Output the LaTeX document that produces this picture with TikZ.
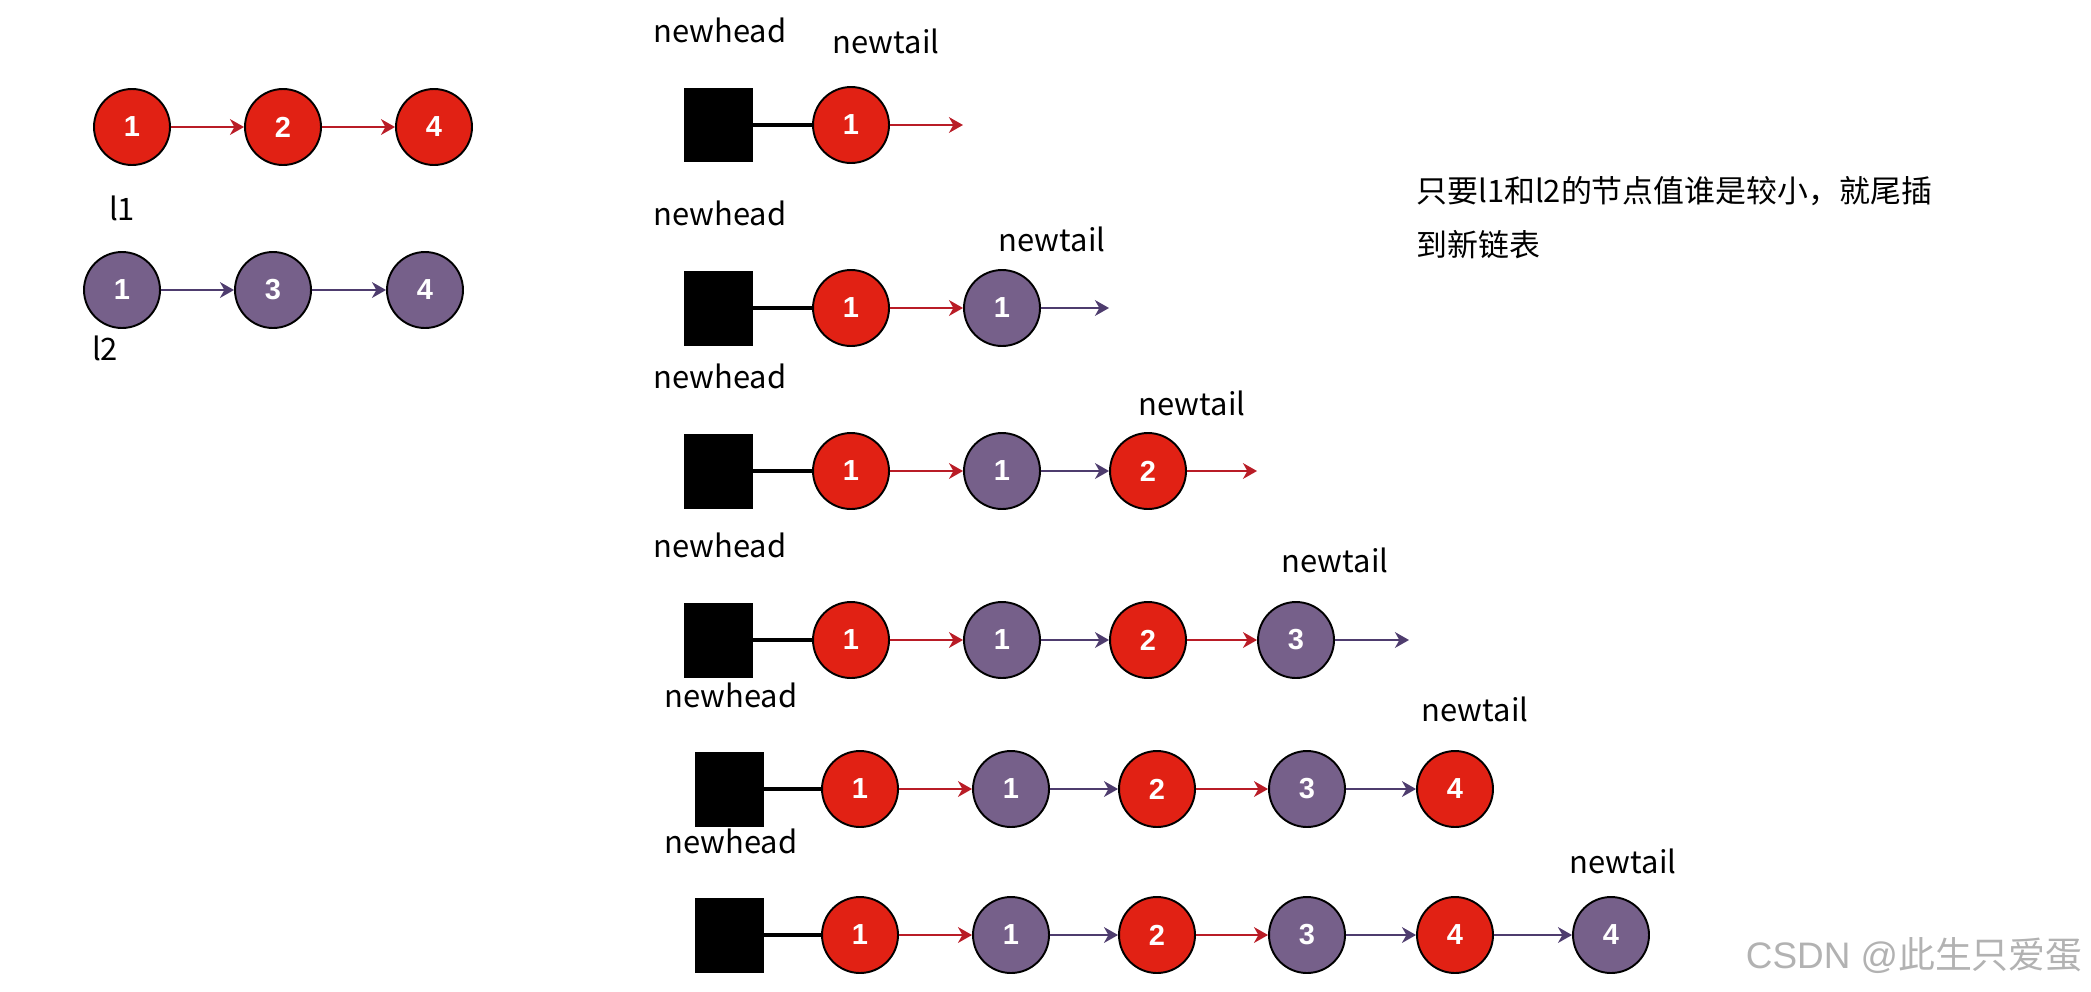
\documentclass[tikz,border=0pt]{standalone}
\usepackage{fontspec}
\setmainfont{Noto Sans CJK SC}
\newfontfamily\numfont{Liberation Sans}
\usetikzlibrary{arrows.meta}
\definecolor{nodered}{RGB}{225,33,20}
\definecolor{nodepurple}{RGB}{118,96,138}
\definecolor{linkred}{RGB}{185,28,38}
\definecolor{linkpurple}{RGB}{78,60,110}
\tikzset{
 listnode/.style={circle,draw=black,line width=1.1pt,inner sep=0pt,minimum size=1.52cm,
  text=white,font=\numfont\bfseries\fontsize{16.5}{17}\selectfont},
 rednode/.style={listnode,fill=nodered},
 purplenode/.style={listnode,fill=nodepurple},
 headbox/.style={fill=black,inner sep=0pt,minimum width=1.38cm,minimum height=1.5cm},
 redlink/.style={linkred,line width=1.1pt,-{Stealth[length=8pt,width=9pt,inset=2.5pt]}},
 purplelink/.style={linkpurple,line width=1.1pt,-{Stealth[length=8pt,width=9pt,inset=2.5pt]}},
 headlink/.style={black,line width=2.6pt},
 ptrtext/.style={font=\fontsize{17.6}{20}\selectfont,inner sep=0pt}
}

\begin{document}
\begin{tikzpicture}[x=0.02cm,y=-0.02cm]
 \useasboundingbox (0,0) rectangle (2091,991);
 % the two input lists
 \node[rednode] (l1a) at (132,127) {1};
 \node[rednode] (l1b) at (283,127) {2};
 \node[rednode] (l1c) at (434,127) {4};
 \draw[redlink] (l1a)--(l1b);
 \draw[redlink] (l1b)--(l1c);
 \node[ptrtext] (l1name) at (122,208) {l1};
 \node[purplenode] (l2a) at (122,290) {1};
 \node[purplenode] (l2b) at (273,290) {3};
 \node[purplenode] (l2c) at (425,290) {4};
 \draw[purplelink] (l2a)--(l2b);
 \draw[purplelink] (l2b)--(l2c);
 \node[ptrtext] (l2name) at (105,348) {l2};
 % step 1
 \begin{scope}[shift={(718,125)}]
  \node[headbox] (h1) at (0,0) {};
  \node[ptrtext] (h1name) at (2,-95) {newhead};
  \node[rednode] (s1a) at (133,0) {1};
  \coordinate (s1end) at (245,0);
  \node[ptrtext] (t1name) at (168,-84) {newtail};
  \draw[headlink] (h1)--(s1a);
  \draw[redlink] (s1a)--(s1end);
 \end{scope}
 % step 2
 \begin{scope}[shift={(718,308)}]
  \node[headbox] (h2) at (0,0) {};
  \node[ptrtext] (h2name) at (2,-95) {newhead};
  \node[rednode] (s2a) at (133,0) {1};
  \node[purplenode] (s2b) at (284,0) {1};
  \coordinate (s2end) at (391,0);
  \node[ptrtext] (t2name) at (334,-69) {newtail};
  \draw[headlink] (h2)--(s2a);
  \draw[redlink] (s2a)--(s2b);
  \draw[purplelink] (s2b)--(s2end);
 \end{scope}
 % step 3
 \begin{scope}[shift={(718,471)}]
  \node[headbox] (h3) at (0,0) {};
  \node[ptrtext] (h3name) at (2,-95) {newhead};
  \node[rednode] (s3a) at (133,0) {1};
  \node[purplenode] (s3b) at (284,0) {1};
  \node[rednode] (s3c) at (430,0) {2};
  \coordinate (s3end) at (539,0);
  \node[ptrtext] (t3name) at (474,-68) {newtail};
  \draw[headlink] (h3)--(s3a);
  \draw[redlink] (s3a)--(s3b);
  \draw[purplelink] (s3b)--(s3c);
  \draw[redlink] (s3c)--(s3end);
 \end{scope}
 % step 4
 \begin{scope}[shift={(718,640)}]
  \node[headbox] (h4) at (0,0) {};
  \node[ptrtext] (h4name) at (2,-95) {newhead};
  \node[rednode] (s4a) at (133,0) {1};
  \node[purplenode] (s4b) at (284,0) {1};
  \node[rednode] (s4c) at (430,0) {2};
  \node[purplenode] (s4d) at (578,0) {3};
  \coordinate (s4end) at (691,0);
  \node[ptrtext] (t4name) at (617,-80) {newtail};
  \draw[headlink] (h4)--(s4a);
  \draw[redlink] (s4a)--(s4b);
  \draw[purplelink] (s4b)--(s4c);
  \draw[redlink] (s4c)--(s4d);
  \draw[purplelink] (s4d)--(s4end);
 \end{scope}
 % step 5
 \begin{scope}[shift={(729,789)}]
  \node[headbox] (h5) at (0,0) {};
  \node[ptrtext] (h5name) at (2,-94) {newhead};
  \node[rednode] (s5a) at (131,0) {1};
  \node[purplenode] (s5b) at (282,0) {1};
  \node[rednode] (s5c) at (428,0) {2};
  \node[purplenode] (s5d) at (578,0) {3};
  \node[rednode] (s5e) at (726,0) {4};
  \node[ptrtext] (t5name) at (746,-80) {newtail};
  \draw[headlink] (h5)--(s5a);
  \draw[redlink] (s5a)--(s5b);
  \draw[purplelink] (s5b)--(s5c);
  \draw[redlink] (s5c)--(s5d);
  \draw[purplelink] (s5d)--(s5e);
 \end{scope}
 % step 6
 \begin{scope}[shift={(729,935)}]
  \node[headbox] (h6) at (0,0) {};
  \node[ptrtext] (h6name) at (2,-94) {newhead};
  \node[rednode] (s6a) at (131,0) {1};
  \node[purplenode] (s6b) at (282,0) {1};
  \node[rednode] (s6c) at (428,0) {2};
  \node[purplenode] (s6d) at (578,0) {3};
  \node[rednode] (s6e) at (726,0) {4};
  \node[purplenode] (s6f) at (882,0) {4};
  \node[ptrtext] (t6name) at (894,-74) {newtail};
  \draw[headlink] (h6)--(s6a);
  \draw[redlink] (s6a)--(s6b);
  \draw[purplelink] (s6b)--(s6c);
  \draw[redlink] (s6c)--(s6d);
  \draw[purplelink] (s6d)--(s6e);
  \draw[purplelink] (s6e)--(s6f);
 \end{scope}
 \node[ptrtext,anchor=west,align=left,font=\fontsize{17.6}{30.6}\selectfont] (rule) at (1416,218)
  {只要l1和l2的节点值谁是较小，就尾插\\到新链表};
 \node[anchor=east,inner sep=0pt,text=black!30,font=\fontsize{21}{22}\selectfont] (mark) at (2083,956)
  {{\numfont CSDN @}此生只爱蛋};
\end{tikzpicture}
\end{document}
